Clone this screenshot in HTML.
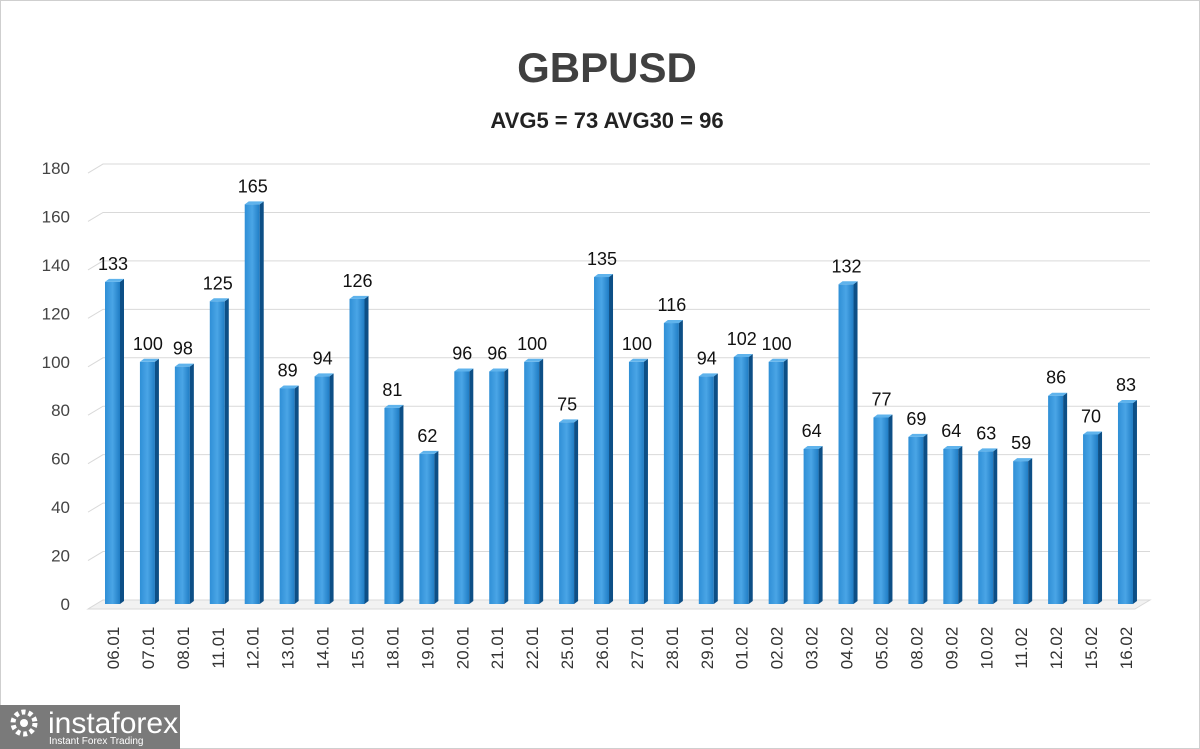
<!DOCTYPE html>
<html><head><meta charset="utf-8"><style>
html,body{margin:0;padding:0;background:#fff;}
svg{display:block;font-family:"Liberation Sans",sans-serif;}
</style></head><body>
<svg width="1200" height="749" viewBox="0 0 1200 749" xmlns="http://www.w3.org/2000/svg">
<defs>
<linearGradient id="bf" x1="0" x2="1" y1="0" y2="0">
<stop offset="0" stop-color="#2f8fd6"/><stop offset="0.5" stop-color="#4aa5e6"/><stop offset="1" stop-color="#1f7cc4"/>
</linearGradient>
</defs>
<rect x="0.5" y="0.5" width="1199" height="748" fill="#fff" stroke="#cfcfcf"/>
<text x="607" y="82" font-size="42" font-weight="bold" fill="#404040" text-anchor="middle">GBPUSD</text>
<text x="607" y="128" font-size="22" font-weight="bold" fill="#222" text-anchor="middle">AVG5 = 73 AVG30 = 96</text>
<g id="grid" stroke="#d9d9d9" stroke-width="1" fill="none"></g>
<g id="yl" font-size="17" fill="#444" text-anchor="end"></g>
<g id="bars"></g>
<g id="vl" font-size="18" fill="#111" text-anchor="middle"></g>
<g id="xl" font-size="17" fill="#333"></g>
<rect x="0" y="705" width="180" height="44" fill="#7a7a7a"/>
<circle cx="24" cy="723" r="11" fill="none" stroke="#fff" stroke-width="5" stroke-dasharray="4 3"/>
<circle cx="24" cy="723" r="4" fill="#fff"/>
<text x="48" y="733" font-size="30" fill="#fff">instaforex</text>
<text x="49" y="744" font-size="10" fill="#fff">Instant Forex Trading</text>
</svg>
<script>
(function(){
var vals=[133,100,98,125,165,89,94,126,81,62,96,96,100,75,135,100,116,94,102,100,64,132,77,69,64,63,59,86,70,83];
var labs=["06.01","07.01","08.01","11.01","12.01","13.01","14.01","15.01","18.01","19.01","20.01","21.01","22.01","25.01","26.01","27.01","28.01","29.01","01.02","02.02","03.02","04.02","05.02","08.02","09.02","10.02","11.02","12.02","15.02","16.02"];
var ns="http://www.w3.org/2000/svg";
function el(p,t,a,txt){var e=document.createElementNS(ns,t);for(var k in a)e.setAttribute(k,a[k]);if(txt!==undefined)e.textContent=txt;document.getElementById(p).appendChild(e);return e;}
var y0=604,sc=48.44/20;
for(var v=0;v<=180;v+=20){var y=y0-v*sc;
 el("grid","polyline",{points:"88,"+(y+5)+" 103,"+(y-4)+" 1150,"+(y-4)});
 el("yl","text",{x:70,y:y+6},String(v));}
el("grid","polygon",{points:"88,609 103,600 1150,600 1135,609",fill:"#f2f2f2"});
for(var i=0;i<30;i++){var cx=113+i*34.93,h=vals[i]*sc,tp=y0-h,x=cx-8;
 el("bars","rect",{x:x,y:tp,width:15,height:h,fill:"url(#bf)"});
 el("bars","polygon",{points:(x+15)+","+tp+" "+(x+19)+","+(tp-3)+" "+(x+19)+","+(y0-3)+" "+(x+15)+","+y0,fill:"#0d4f86"});
 el("bars","polygon",{points:x+","+tp+" "+(x+4)+","+(tp-3)+" "+(x+19)+","+(tp-3)+" "+(x+15)+","+tp,fill:"#5fb3ec"});
 el("vl","text",{x:cx,y:tp-12},String(vals[i]));
 el("xl","text",{x:0,y:0,transform:"translate("+(cx+6)+",648) rotate(-90)","text-anchor":"middle"},labs[i]);}
})();
</script>
</body></html>
